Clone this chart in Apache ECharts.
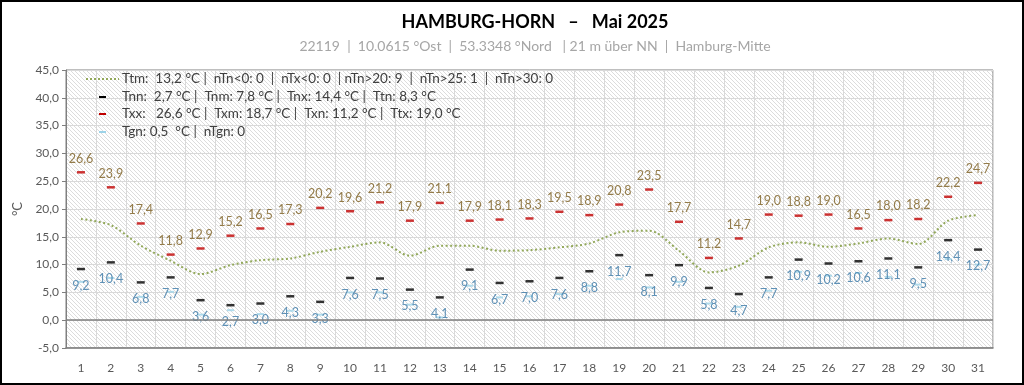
<!DOCTYPE html>
<html><head><meta charset="utf-8">
<script src="https://cdn.jsdelivr.net/npm/echarts@6/dist/echarts.min.js"></script>
<style>html,body{margin:0;padding:0;background:#fff}#c{width:1024px;height:385px}</style>
</head><body><div id="c"></div>
<script>
const days = Array.from({length:31},(_,i)=>String(i+1));
const tMax = [26.6,23.9,17.4,11.8,12.9,15.2,16.5,17.3,20.2,19.6,21.2,17.9,21.1,17.9,18.1,18.3,19.5,18.9,20.8,23.5,17.7,11.2,14.7,19.0,18.8,19.0,16.5,18.0,18.2,22.2,24.7];
const tMin = [9.2,10.4,6.8,7.7,3.6,2.7,3.0,4.3,3.3,7.6,7.5,5.5,4.1,9.1,6.7,7.0,7.6,8.8,11.7,8.1,9.9,5.8,4.7,7.7,10.9,10.2,10.6,11.1,9.5,14.4,12.7];
const tMean = [18.2,17.1,13.4,10.7,8.3,9.9,10.8,11.1,12.3,13.2,14.0,11.6,13.4,13.4,12.5,12.6,13.1,13.8,15.8,16.1,12.5,8.6,9.8,13.1,14.0,13.2,13.8,14.7,13.7,17.9,18.9];
const tGround = [6.9,7.6,4.2,5.1,1.0,1.8,1.1,1.7,1.0,5.0,5.0,2.8,0.5,6.2,4.1,4.3,4.7,6.2,7.4,5.9,6.9,3.0,2.4,5.3,8.7,8.0,8.5,7.8,6.4,11.0,10.0];
const legendTexts = [
  'Ttm:  13,2 °C |  nTn<0: 0  |  nTx<0: 0  | nTn>20: 9  |  nTn>25: 1  |  nTn>30: 0',
  'Tnn:  2,7 °C |  Tnm: 7,8 °C |  Tnx: 14,4 °C |  Ttn: 8,3 °C',
  'Txx:   26,6 °C |  Txm: 18,7 °C |  Txn: 11,2 °C |  Ttx: 19,0 °C',
  'Tgn: 0,5  °C |  nTgn: 0'
];
const titleText = 'HAMBURG-HORN   –   Mai 2025';
const subText = '22119  |  10.0615 °Ost  |  53.3348 °Nord   | 21 m über NN  |  Hamburg-Mitte';

const FONT = 'Lato, "Open Sans", sans-serif';
const fmt = v => v.toFixed(1).replace('.', ',');

// hatch pattern
const pc = document.createElement('canvas');
pc.width = 8; pc.height = 8;
const g = pc.getContext('2d');
g.fillStyle = '#ffffff'; g.fillRect(0,0,8,8);
g.strokeStyle = '#dcdcdc'; g.lineWidth = 1;
for (let o = -8; o <= 8; o += 4) { g.beginPath(); g.moveTo(o,0); g.lineTo(o+8,8); g.stroke(); }

const chart = echarts.init(document.getElementById('c'), null, {renderer:'canvas'});
const legendColors = ['#92a85a','#000000','#c00000','#9dd3e8'];
const legendRowsY = [79, 97, 114, 132];
const graphics = [
  {type:'rect', shape:{x:1,y:1,width:1022,height:383}, style:{fill:'none', stroke:'#000', lineWidth:2}, silent:true, z:100}
];
legendRowsY.forEach((y,i)=>{
  if (i===0) {
    graphics.push({type:'line', shape:{x1:86,y1:y,x2:119,y2:y}, style:{stroke:legendColors[0], lineWidth:2, lineDash:[2,2]}, z:50});
  } else {
    graphics.push({type:'rect', shape:{x:99,y:y-1,width:7,height:2}, style:{fill:legendColors[i]}, z:50});
  }
  graphics.push({type:'text', x:122, y:y, style:{text:legendTexts[i], fill:'#404040', font:'13.5px '+FONT, textVerticalAlign:'middle'}, z:50});
});

chart.setOption({
  animation:false,
  title:{text:titleText, subtext:subText, left:530, textAlign:'center', top:8, itemGap:8,
    textStyle:{fontSize:18, fontWeight:'bold', color:'#000', fontFamily:FONT},
    subtextStyle:{fontSize:14, color:'#a6a6a6', fontFamily:FONT}},
  grid:{left:66, right:31, top:70, bottom:37, show:true, borderColor:'#7f7f7f', borderWidth:1,
    backgroundColor:{image:pc, repeat:'repeat'}},
  xAxis:{type:'category', data:days, boundaryGap:true,
    axisLine:{onZero:false, lineStyle:{color:'#7f7f7f', width:1.5}},
    axisTick:{show:false},
    axisLabel:{color:'#595959', fontSize:12, fontFamily:FONT, margin:14},
    splitLine:{show:true, lineStyle:{color:'#d9d9d9'}}},
  yAxis:{type:'value', min:-5, max:45, interval:5, name:'°C', nameLocation:'middle', nameGap:42, nameRotate:90,
    nameTextStyle:{color:'#595959', fontSize:13, fontFamily:FONT},
    axisLine:{show:true, lineStyle:{color:'#7f7f7f'}},
    axisTick:{show:true, length:4, lineStyle:{color:'#7f7f7f'}},
    axisLabel:{color:'#595959', fontSize:12, fontFamily:FONT, formatter:v=>fmt(v), margin:7},
    splitLine:{show:true, lineStyle:{color:'#d9d9d9'}}},
  graphic:graphics,
  series:[
    {type:'line', data:tMean, smooth:0.3, symbol:'none', z:2,
      lineStyle:{color:'#92a85a', width:2, type:[2,2.5]},
      markLine:{silent:true, symbol:'none', label:{show:false}, lineStyle:{color:'#7f7f7f', width:1.5, type:'solid'}, data:[{yAxis:0}]}},
    {type:'scatter', data:tGround, symbol:'rect', symbolSize:[7,2], z:3, itemStyle:{color:'#9dd3e8'}},
    {type:'scatter', data:tMin, symbol:'rect', symbolSize:[8,2.5], z:4, itemStyle:{color:'#000'},
      label:{show:true, position:'bottom', distance:9, formatter:p=>fmt(p.value), color:'#3a78a6', fontSize:12.5, fontFamily:FONT}},
    {type:'scatter', data:tMax, symbol:'rect', symbolSize:[8,2.5], z:4, itemStyle:{color:'#c00000'},
      label:{show:true, position:'top', distance:6, formatter:p=>fmt(p.value), color:'#7a5c1e', fontSize:12.5, fontFamily:FONT}}
  ]
});
</script></body></html>
